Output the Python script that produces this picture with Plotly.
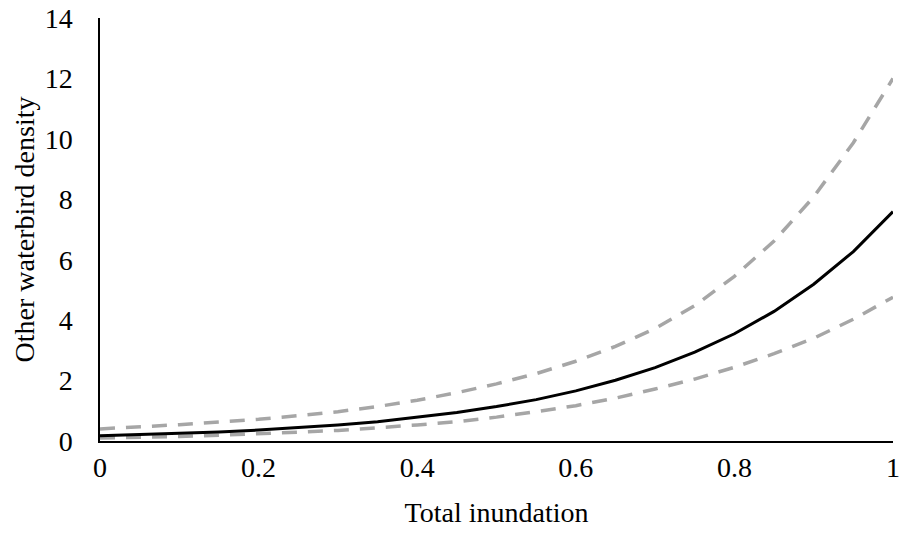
import plotly.graph_objects as go

# Total inundation (proportion) and modelled density with 95% bounds
inundation = [0.00, 0.05, 0.10, 0.15, 0.20, 0.25, 0.30, 0.35, 0.40, 0.45, 0.50,
              0.55, 0.60, 0.65, 0.70, 0.75, 0.80, 0.85, 0.90, 0.95, 1.00]
density = [0.17, 0.21, 0.25, 0.30, 0.36, 0.44, 0.53, 0.64, 0.78, 0.94, 1.14,
           1.37, 1.66, 2.01, 2.43, 2.94, 3.55, 4.29, 5.19, 6.27, 7.59]
upper = [0.40, 0.46, 0.54, 0.63, 0.72, 0.84, 0.97, 1.14, 1.35, 1.60, 1.89,
         2.23, 2.64, 3.13, 3.72, 4.48, 5.45, 6.62, 8.08, 9.87, 12.0]
lower = [0.10, 0.12, 0.15, 0.19, 0.23, 0.29, 0.35, 0.43, 0.53, 0.64, 0.79,
         0.97, 1.17, 1.42, 1.72, 2.05, 2.44, 2.89, 3.40, 4.03, 4.76]

x_ticks = [0, 0.2, 0.4, 0.6, 0.8, 1]
x_tick_text = ["0", "0.2", "0.4", "0.6", "0.8", "1"]
y_ticks = [0, 2, 4, 6, 8, 10, 12, 14]

FONT = "Liberation Serif"
SIZE = 28
GREY = "#a6a6a6"

fig = go.Figure()
fig.add_trace(go.Scatter(x=inundation, y=upper, mode="lines",
                         line=dict(color=GREY, width=3.5, dash="15px,11px")))
fig.add_trace(go.Scatter(x=inundation, y=lower, mode="lines",
                         line=dict(color=GREY, width=3.5, dash="15px,11px")))
fig.add_trace(go.Scatter(x=inundation, y=density, mode="lines",
                         line=dict(color="black", width=3)))

fig.update_layout(
    width=901, height=533,
    margin=dict(l=100, r=8, t=18, b=92),
    paper_bgcolor="white", plot_bgcolor="white",
    showlegend=False,
    font=dict(family=FONT, size=SIZE, color="black"),
    xaxis=dict(
        range=[0, 1], tickvals=x_ticks, ticktext=x_tick_text,
        tickfont=dict(family=FONT, size=SIZE, color="black"),
        showgrid=False, zeroline=False, ticks="", ticklabelstandoff=0,
        showline=True, linecolor="black", linewidth=2,
        title=dict(text="Total inundation", font=dict(family=FONT, size=SIZE),
                   standoff=21),
        automargin=False,
    ),
    yaxis=dict(
        range=[0, 14], tickvals=y_ticks,
        tickfont=dict(family=FONT, size=SIZE, color="black"),
        showgrid=False, zeroline=False, ticks="", ticklabelstandoff=20,
        showline=True, linecolor="black", linewidth=1.5,
        title=dict(text="Other waterbird density", font=dict(family=FONT, size=SIZE),
                   standoff=2),
        automargin=False,
    ),
)

fig.write_html("out.html")
